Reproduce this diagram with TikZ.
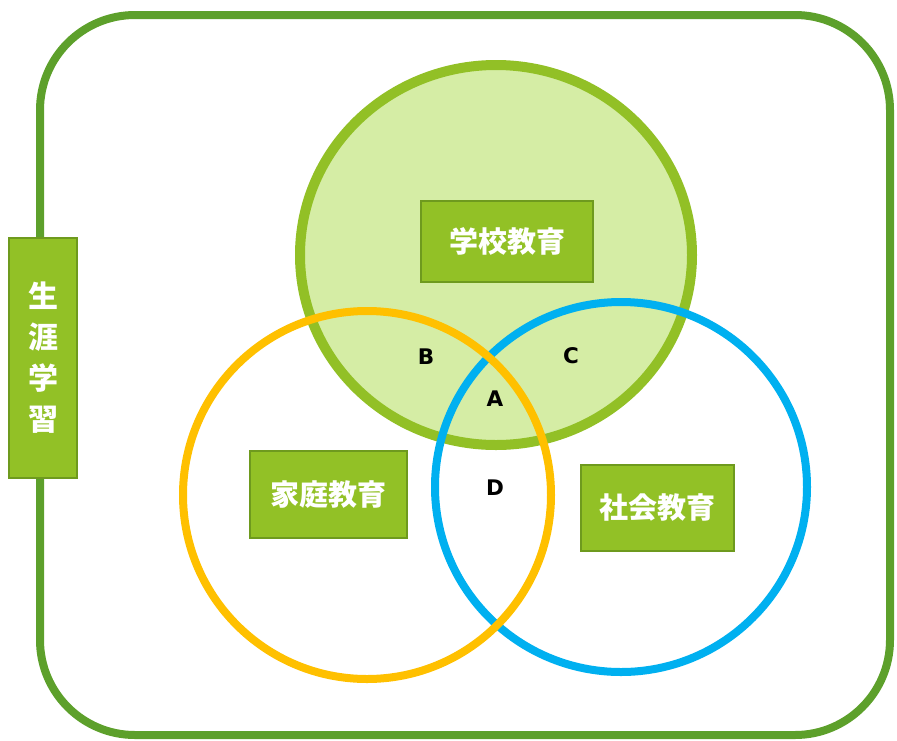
\documentclass[tikz,border=0pt]{standalone}
\usepackage{fontspec}
\newfontfamily\cjkfam{Noto Sans CJK JP}
\newcommand\cjk{\cjkfam\bfseries}
\newfontfamily\lat{DejaVu Sans Bold}
\definecolor{outerg}{HTML}{5DA02B}
\definecolor{schoolfill}{HTML}{D5EDA5}
\definecolor{schoolline}{HTML}{92C026}
\definecolor{famline}{HTML}{FFC000}
\definecolor{socline}{HTML}{00B0F0}
\definecolor{boxfill}{HTML}{92C126}
\definecolor{boxline}{HTML}{6E9A1E}
\tikzset{
  gbox/.style={draw=boxline, line width=2pt, fill=boxfill, text=white, font=\cjk\fontsize{29}{34}\selectfont, inner sep=0pt, anchor=center},
  letter/.style={font=\lat\fontsize{21.5}{24}\selectfont, text=black, inner sep=0pt}
}
\begin{document}
\begin{tikzpicture}[x=1pt,y=-1pt]
\useasboundingbox (0,0) rectangle (897,740);
\draw[outerg, line width=8pt, rounded corners=95pt] (40,15) rectangle (890,735);
\draw[schoolline, fill=schoolfill, line width=10pt] (496,255) ellipse [x radius=196, y radius=190];
\draw[socline, line width=8pt] (621,487) ellipse [x radius=186, y radius=185];
\draw[famline, line width=8pt] (367,495) ellipse [x radius=184, y radius=184];
\node[gbox, minimum width=172pt, minimum height=81pt] (school) at (507,241.5) {学校教育};
\node[gbox, minimum width=157pt, minimum height=87pt] (family) at (328.5,494.5) {家庭教育};
\node[gbox, minimum width=153pt, minimum height=86pt] (society) at (657.5,508) {社会教育};
\node[gbox, minimum width=68pt, minimum height=240pt, font=\cjk\fontsize{30}{41}\selectfont, align=center] (life) at (43,358) {生\\涯\\学\\習};
\node[letter] (B) at (426,357) {B};
\node[letter] (C) at (571,356) {C};
\node[letter] (A) at (495,399) {A};
\node[letter] (D) at (495,488) {D};
\end{tikzpicture}
\end{document}
